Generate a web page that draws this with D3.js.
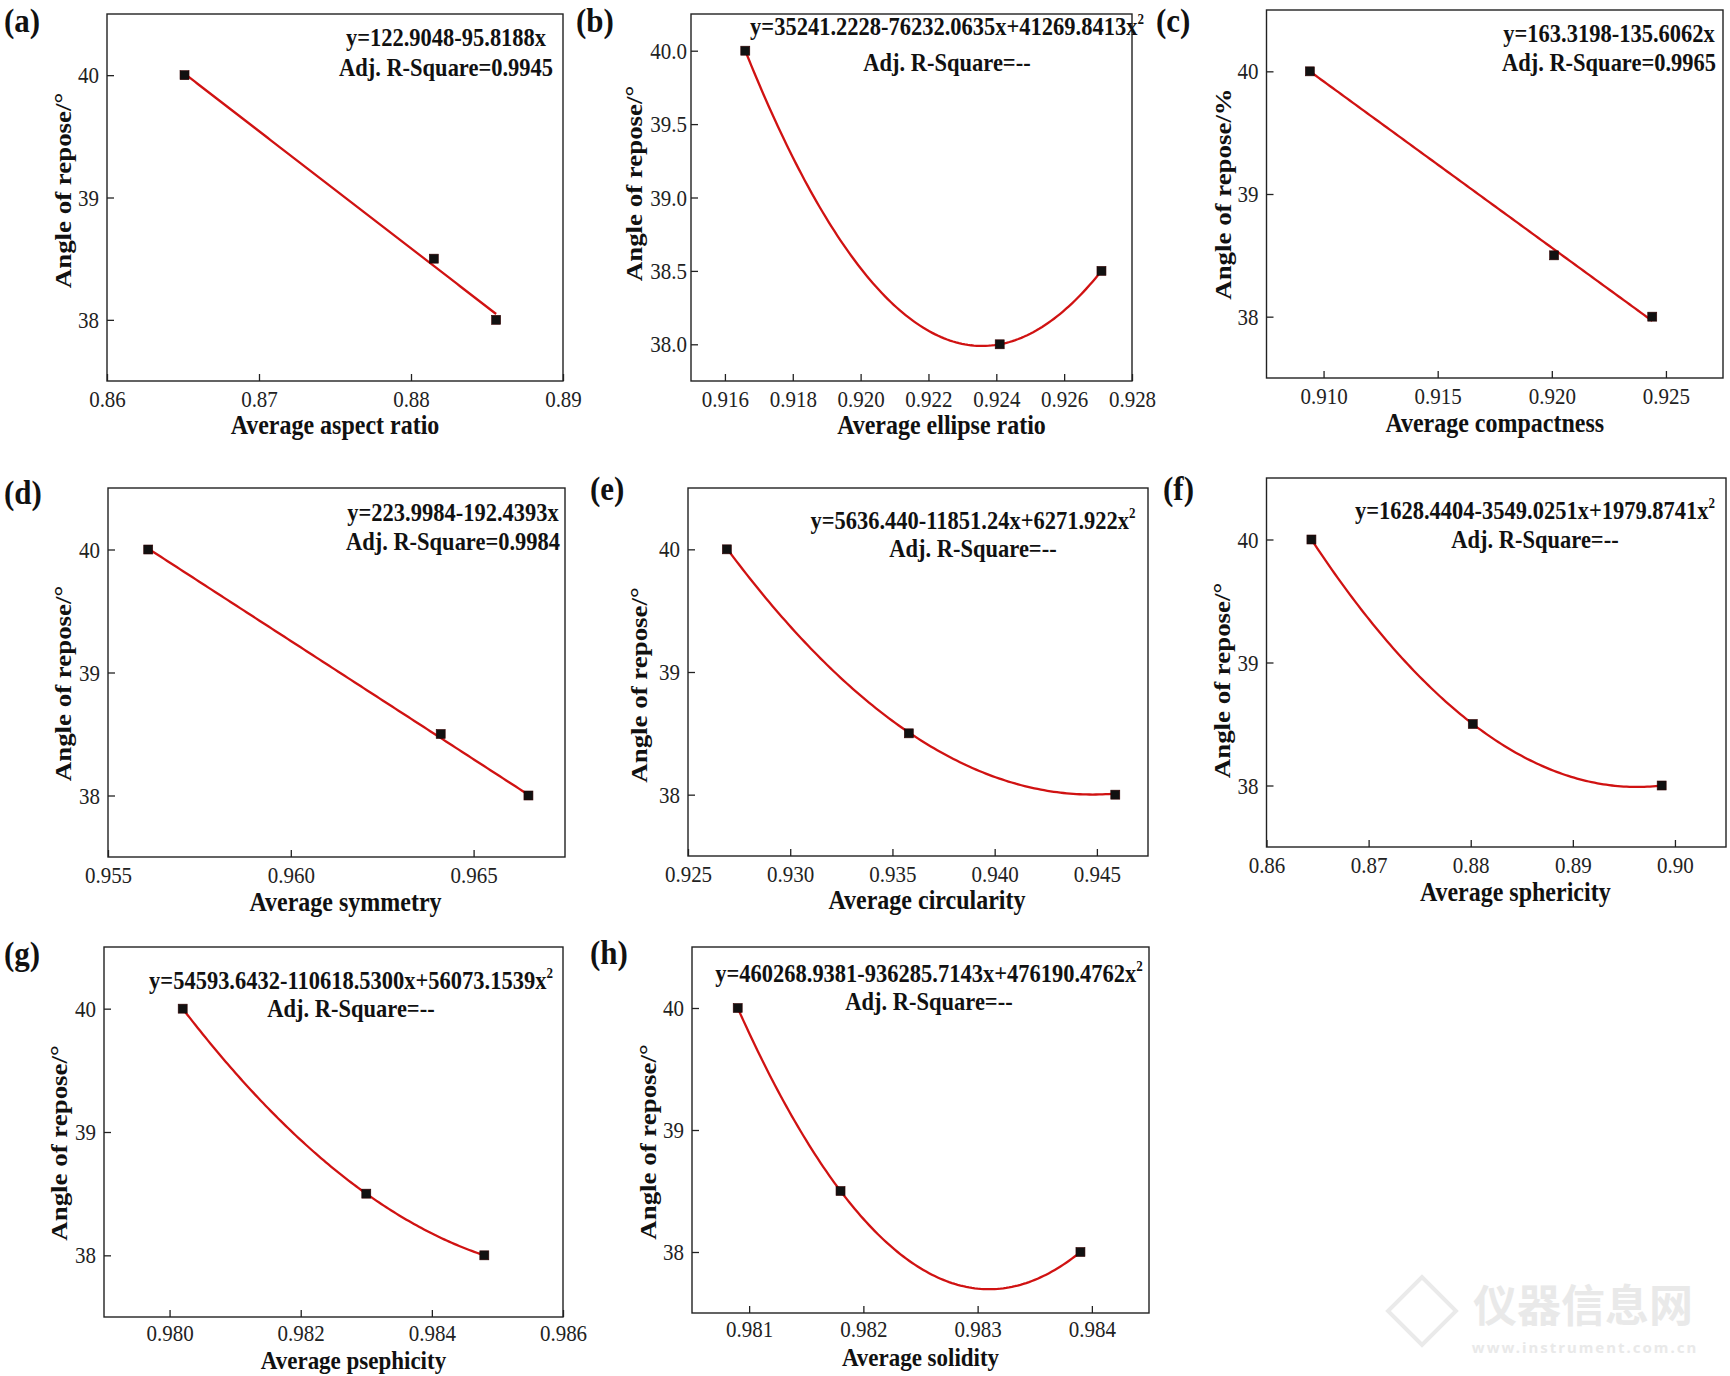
<!DOCTYPE html>
<html>
<head>
<meta charset="utf-8">
<script src="https://cdn.jsdelivr.net/npm/d3@7"></script>
<style>
  html, body { margin: 0; padding: 0; background: #fff; }
  svg { display: block; }
  .tick text { font-family: "Liberation Serif", "Times New Roman", serif; }
</style>
</head>
<body>
<svg id="chart" width="1730" height="1376"></svg>
<script>
// ---------------- DATA ----------------
const panelLabels = ["(a)", "(b)", "(c)", "(d)", "(e)", "(f)", "(g)", "(h)"];
const xTitles = ["Average aspect ratio", "Average ellipse ratio", "Average compactness",
  "Average symmetry", "Average circularity", "Average sphericity",
  "Average psephicity", "Average solidity"];
const yTitles = ["Angle of repose/°", "Angle of repose/°", "Angle of repose/%",
  "Angle of repose/°", "Angle of repose/°", "Angle of repose/°",
  "Angle of repose/°", "Angle of repose/°"];

// measured points (x: shape parameter, y: angle of repose)
const xA = [0.8651, 0.8815, 0.8856];
const yA = [40, 38.5, 38];
const xB = [0.9166, 0.9241, 0.9271];
const yB = [40, 38, 38.5];
const xC = [0.9094, 0.9201, 0.9244];
const yC = [40, 38.5, 38];
const xD = [0.9561, 0.9641, 0.9665];
const yD = [40, 38.5, 38];
const xE = [0.9269, 0.9358, 0.9459];
const yE = [40, 38.5, 38];
const xF = [0.8644, 0.8802, 0.8987];
const yF = [40, 38.5, 38];
const xG = [0.9802, 0.9830, 0.9848];
const yG = [40, 38.5, 38];
const xH = [0.9809, 0.9818, 0.9839];
const yH = [40, 38.5, 38];
const xSeries = [xA, xB, xC, xD, xE, xF, xG, xH];
const ySeries = [yA, yB, yC, yD, yE, yF, yG, yH];

// fit coefficients as printed in each panel (c0 + c1 x + c2 x^2)
const fitCoefs = [
  [122.9048, -95.8188],
  [35241.2228, -76232.0635, 41269.8413],
  [163.3198, -135.6062],
  [223.9984, -192.4393],
  [5636.440, -11851.24, 6271.922],
  [1628.4404, -3549.0251, 1979.8741],
  [54593.6432, -110618.5300, 56073.1539],
  [460268.9381, -936285.7143, 476190.4762]
];
const eqTexts = [
  "y=122.9048-95.8188x",
  "y=35241.2228-76232.0635x+41269.8413x",
  "y=163.3198-135.6062x",
  "y=223.9984-192.4393x",
  "y=5636.440-11851.24x+6271.922x",
  "y=1628.4404-3549.0251x+1979.8741x",
  "y=54593.6432-110618.5300x+56073.1539x",
  "y=460268.9381-936285.7143x+476190.4762x"
];
const r2Texts = ["Adj. R-Square=0.9945", "Adj. R-Square=--", "Adj. R-Square=0.9965",
  "Adj. R-Square=0.9984", "Adj. R-Square=--", "Adj. R-Square=--",
  "Adj. R-Square=--", "Adj. R-Square=--"];

// axes
const xDomains = [[0.86, 0.89], [0.915, 0.928], [0.9075, 0.9275], [0.955, 0.9675],
  [0.925, 0.9475], [0.86, 0.905], [0.979, 0.986], [0.9805, 0.9845]];
const yDomains = [[37.5, 40.5], [37.75, 40.25], [37.5, 40.5], [37.5, 40.5],
  [37.5, 40.5], [37.5, 40.5], [37.5, 40.5], [37.5, 40.5]];
const xTickValues = [
  [0.86, 0.87, 0.88, 0.89],
  [0.916, 0.918, 0.920, 0.922, 0.924, 0.926, 0.928],
  [0.910, 0.915, 0.920, 0.925],
  [0.955, 0.960, 0.965],
  [0.925, 0.930, 0.935, 0.940, 0.945],
  [0.86, 0.87, 0.88, 0.89, 0.90],
  [0.980, 0.982, 0.984, 0.986],
  [0.981, 0.982, 0.983, 0.984]
];
const xTickFormats = [".2f", ".3f", ".3f", ".3f", ".3f", ".2f", ".3f", ".3f"];
const yTickValues = [
  [38, 39, 40], [38.0, 38.5, 39.0, 39.5, 40.0], [38, 39, 40], [38, 39, 40],
  [38, 39, 40], [38, 39, 40], [38, 39, 40], [38, 39, 40]
];
const yTickFormats = ["d", ".1f", "d", "d", "d", "d", "d", "d"];

// ---------------- LAYOUT ----------------
const SY = 1.12; // the figure is slightly stretched vertically
const frames = [
  [107, 14, 563, 381], [691, 14, 1132, 381], [1266.5, 10, 1723, 378],
  [108, 488, 565, 857], [688, 488, 1148, 856], [1266.5, 478, 1726, 847],
  [104, 947, 563, 1317], [692, 947, 1149, 1313]
];
const labelPos = [[4, 20], [576, 20], [1156, 20], [4, 492], [590, 488], [1163, 488], [4, 953], [590, 952]];
const eqPos = [[446, 37, 67], [947, 26, 62], [1609, 33, 62], [453, 512, 541],
  [973, 520, 548], [1535, 510, 539], [351, 980, 1008], [929, 973, 1001]];
const xTitleDx = [0, 30, 0, 9, 9, 19, 20, 0];
const xTitleDy = [44, 44, 45, 45, 44, 45, 43, 44];
const xTitleSize = [24, 24, 24, 24, 24, 24, 23, 23];
const xTitleSY = [SY, SY, SY, SY, SY, SY, 1.1, 1.1];
const xTickPad = [9, 9, 9, 9, 9, 9, 7, 7];
const yTitleOff = [44, 57, 44, 45, 49, 44.5, 45, 44];
const yTitleDy = [-7, -14, 0, 11, 13, 18, 11, 12];
const yTickPad = [8, 4, 8, 8, 8, 8, 8, 8];

const serif = "'Liberation Serif', 'Times New Roman', Times, serif";
const svg = d3.select("#chart");
svg.append("rect").attr("width", 1730).attr("height", 1376).attr("fill", "#fff");

function stext(parent, x, y, size, bold, anchor, sy) {
  return parent.append("text")
    .attr("transform", `translate(${x},${y}) scale(1,${sy || SY})`)
    .attr("dy", "0.35em")
    .attr("text-anchor", anchor || "start")
    .attr("font-family", serif)
    .attr("font-weight", bold ? "bold" : "normal")
    .attr("font-size", size)
    .attr("fill", "#111");
}

// faint watermark
const wm = svg.append("g").attr("fill", "#e9e9e9");
wm.append("rect").attr("x", 1398).attr("y", 1287).attr("width", 48).attr("height", 48)
  .attr("transform", "rotate(45 1422 1311)").attr("fill", "none").attr("stroke", "#eaeaea").attr("stroke-width", 4);
wm.append("text").attr("x", 1583).attr("y", 1322).attr("text-anchor", "middle")
  .attr("font-family", "'Noto Sans CJK SC', sans-serif").attr("font-weight", "bold")
  .attr("font-size", 44).text("仪器信息网");
wm.append("text").attr("x", 1585).attr("y", 1353).attr("text-anchor", "middle")
  .attr("font-family", "'Noto Sans', sans-serif").attr("font-weight", "bold")
  .attr("font-size", 15).attr("letter-spacing", 2).text("www.instrument.com.cn");

panelLabels.forEach((lab, i) => {
  const [x0, y0, x1, y1] = frames[i];
  const x = d3.scaleLinear().domain(xDomains[i]).range([x0, x1]);
  const y = d3.scaleLinear().domain(yDomains[i]).range([y1, y0]);
  const g = svg.append("g");

  // x axis
  const gx = g.append("g").attr("transform", `translate(0,${y1})`)
    .call(d3.axisBottom(x).tickValues(xTickValues[i]).tickFormat(d3.format(xTickFormats[i]))
      .tickSizeInner(-7).tickSizeOuter(0).tickPadding(xTickPad[i]));
  gx.select(".domain").remove();
  gx.selectAll(".tick line").attr("stroke", "#222").attr("stroke-width", 1.3);
  gx.selectAll(".tick text").attr("font-size", 21).attr("fill", "#222")
    .attr("y", 0).attr("transform", `translate(0,${xTickPad[i]}) scale(1,${SY})`);

  // y axis
  const gy = g.append("g").attr("transform", `translate(${x0},0)`)
    .call(d3.axisLeft(y).tickValues(yTickValues[i]).tickFormat(d3.format(yTickFormats[i]))
      .tickSizeInner(-7).tickSizeOuter(0).tickPadding(yTickPad[i]));
  gy.select(".domain").remove();
  gy.selectAll(".tick line").attr("stroke", "#222").attr("stroke-width", 1.3);
  gy.selectAll(".tick text").attr("font-size", 21).attr("fill", "#222")
    .attr("transform", `scale(1,${SY})`);

  // frame
  g.append("rect").attr("x", x0).attr("y", y0).attr("width", x1 - x0).attr("height", y1 - y0)
    .attr("fill", "none").attr("stroke", "#222").attr("stroke-width", 1.4);

  // fit curve from printed coefficients
  const xs = xSeries[i], ys = ySeries[i];
  const c = fitCoefs[i];
  const xmin = d3.min(xs), xmax = d3.max(xs);
  const fitX = d3.range(0, 121).map(k => xmin + (xmax - xmin) * k / 120);
  const fit = fitX.map(v => [v, c.reduce((s, ck, p) => s + ck * Math.pow(v, p), 0)]);
  g.append("path").datum(fit)
    .attr("d", d3.line().x(d => x(d[0])).y(d => y(d[1])))
    .attr("fill", "none").attr("stroke", "#d01212").attr("stroke-width", 2.3);

  // markers
  g.selectAll("rect.pt").data(xs.map((v, k) => [v, ys[k]])).join("rect")
    .attr("class", "pt")
    .attr("x", d => x(d[0]) - 4.5).attr("y", d => y(d[1]) - 4.5)
    .attr("width", 9).attr("height", 9).attr("fill", "#111").attr("stroke", "#300").attr("stroke-width", 0.6);

  // equation
  const [ex, ey1, ey2] = eqPos[i];
  const t1 = stext(g, ex, ey1, 22.5, true, "middle");
  t1.append("tspan").text(eqTexts[i]);
  if (c.length === 3) {
    t1.append("tspan").attr("font-size", 13).attr("dy", -10).text("2");
  }
  stext(g, ex, ey2, 22.5, true, "middle").text(r2Texts[i]);

  // axis titles
  stext(g, (x0 + x1) / 2 + xTitleDx[i], y1 + xTitleDy[i], xTitleSize[i], true, "middle", xTitleSY[i]).text(xTitles[i]);
  const ytx = x0 - yTitleOff[i], yty = (y0 + y1) / 2 + yTitleDy[i];
  g.append("text").attr("transform", `translate(${ytx},${yty}) rotate(-90) scale(${SY},1)`).attr("dy", "0.35em")
    .attr("text-anchor", "middle").attr("font-family", serif).attr("font-weight", "bold")
    .attr("font-size", 24).attr("fill", "#111").text(yTitles[i]);

  // panel label
  stext(svg, labelPos[i][0], labelPos[i][1], 31, true, "start").text(lab);
});
</script>
</body>
</html>
